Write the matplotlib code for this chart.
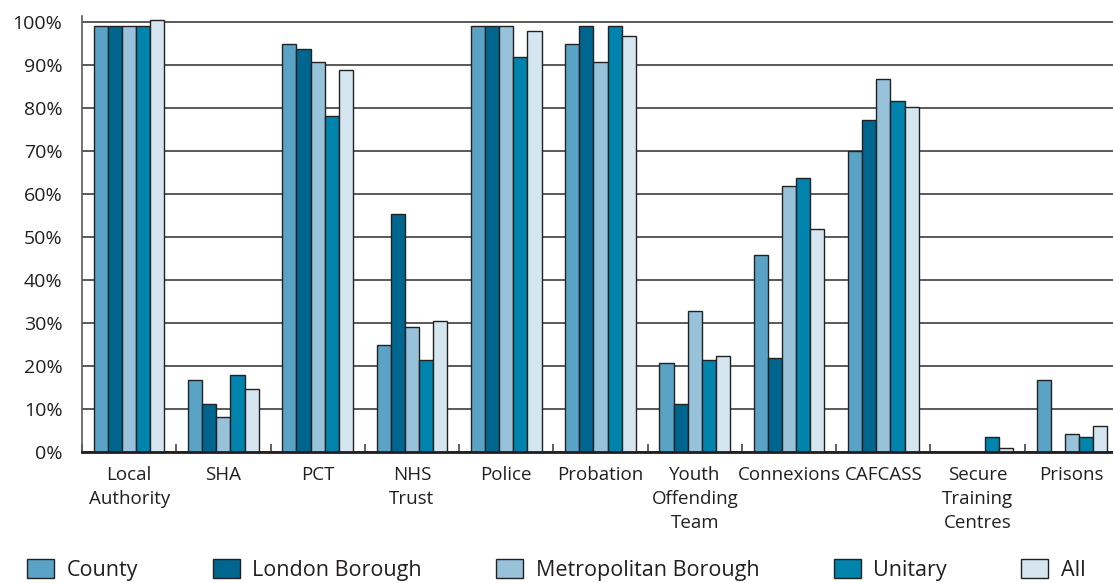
import matplotlib
matplotlib.use("Agg")
import matplotlib.pyplot as plt
import numpy as np

categories = ["Local\nAuthority", "SHA", "PCT", "NHS\nTrust", "Police", "Probation",
              "Youth\nOffending\nTeam", "Connexions", "CAFCASS", "Secure\nTraining\nCentres", "Prisons"]
series_names = ["County", "London Borough", "Metropolitan Borough", "Unitary", "All"]
county = [99, 16.8, 94.8, 24.8, 99, 94.8, 20.8, 45.7, 70.0, 0, 16.7]
london = [99, 11.2, 93.8, 55.3, 99, 99, 11.2, 21.9, 77.2, 0, 0]
metro = [99, 8.2, 90.8, 29.1, 99, 90.8, 32.9, 61.9, 86.7, 0, 4.1]
unitary = [99, 17.9, 78.1, 21.4, 91.8, 99, 21.4, 63.8, 81.6, 3.6, 3.6]
all_ = [100.5, 14.7, 88.8, 30.5, 98, 96.8, 22.3, 51.8, 80.2, 1.0, 6.1]
yticks = [0, 10, 20, 30, 40, 50, 60, 70, 80, 90, 100]
ytick_labels = [f"{v}%" for v in yticks]

colors = ["#5AA3C6", "#00668F", "#98C1DA", "#0083AC", "#D5E6F0"]
series = [county, london, metro, unitary, all_]

plt.rcParams['font.family'] = ['Open Sans', 'DejaVu Sans']
fig = plt.figure(figsize=(11.13, 5.83), dpi=100)
ax = fig.add_axes([82/1113, 131/583, 1037/1113, 436/583])

n = len(categories)
x = np.arange(n)
w = 0.15
for i, (vals, c, name) in enumerate(zip(series, colors, series_names)):
    bars = ax.bar(x - 2*w + i*w, vals, width=w, color=c, edgecolor="#222222",
                  linewidth=1.0, label=name, zorder=3, clip_on=False)
    for b in bars:
        if b.get_height() == 0:
            b.set_linewidth(0)

ax.set_xlim(-0.5, n - 0.5)
ax.set_ylim(0, 101.4)
ax.set_yticks(yticks)
ax.set_yticklabels(ytick_labels, fontsize=14, color="#231f20")
ax.yaxis.grid(True, color="#5a5a5a", linewidth=1.4, zorder=0)
ax.set_axisbelow(True)
ax.tick_params(axis='y', length=0, pad=14)
for s in ["top", "right"]:
    ax.spines[s].set_visible(False)
ax.spines["left"].set_color("#5a5a5a")
ax.spines["left"].set_linewidth(1.2)
ax.spines["bottom"].set_color("#231f20")
ax.spines["bottom"].set_linewidth(2)
ax.spines["bottom"].set_zorder(4)

ax.set_xticks(np.arange(-0.5, n, 1.0), minor=False)
ax.set_xticklabels([])
ax.tick_params(axis='x', direction='in', length=6, width=1.2, color="#444444")
ax.set_xticks(x, minor=True)
ax.set_xticklabels(categories, minor=True, fontsize=13.5, color="#231f20", linespacing=1.45)
ax.tick_params(axis='x', which='minor', length=0, pad=10)

fig.legend(loc="lower center", bbox_to_anchor=(0.5, -0.03), ncol=5, frameon=False,
           fontsize=15.5, handlelength=1.25, handleheight=0.95, handletextpad=0.6,
           columnspacing=3.44, labelcolor="#231f20")

fig.savefig("out.png", dpi=100)
